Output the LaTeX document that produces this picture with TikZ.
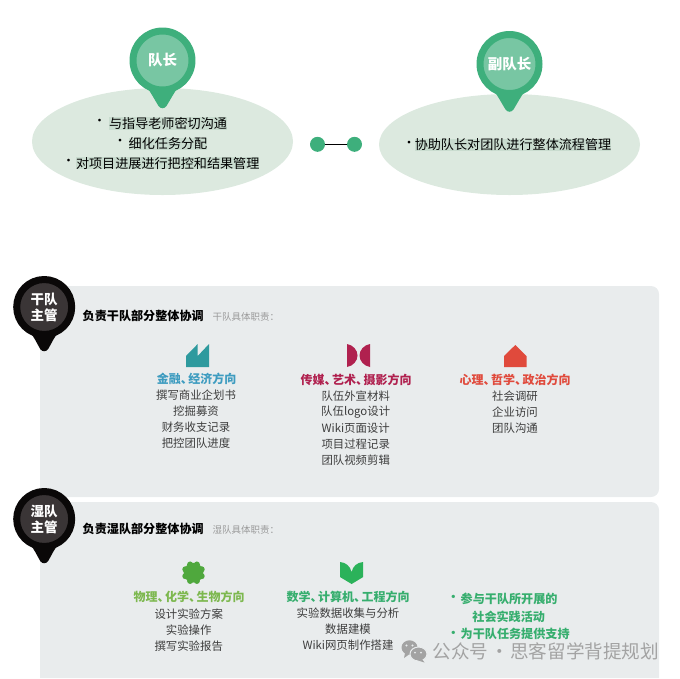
\documentclass[tikz,border=0pt]{standalone}
\usepackage{fontspec}
\setmainfont{Noto Sans CJK SC}
\usetikzlibrary{shapes.geometric}
\definecolor{leafgreen}{HTML}{3EAF7C}
\definecolor{leaflight}{HTML}{78C6A3}
\definecolor{ovalgreen}{HTML}{DCE9DF}
\definecolor{marktext}{HTML}{C9DCCF}
\definecolor{panelgrey}{HTML}{E9ECED}
\definecolor{pinblack}{HTML}{0A0808}
\definecolor{pingrey}{HTML}{3A3536}
\definecolor{bodygrey}{HTML}{3D3D3D}
\definecolor{notegrey}{HTML}{9A9A9A}
\definecolor{markgrey}{HTML}{A3A3A3}
\definecolor{finteal}{HTML}{2E9A9E}
\definecolor{finblue}{HTML}{3E9CC0}
\definecolor{mediared}{HTML}{B0214F}
\definecolor{psyred}{HTML}{E04A3C}
\definecolor{biogreen}{HTML}{4FA83D}
\definecolor{biohead}{HTML}{7DB84F}
\definecolor{mathgreen}{HTML}{2BB25A}
\definecolor{mathhead}{HTML}{36AE6E}
\newcommand{\dunhao}{、\kern-4.5pt}
\tikzset{
  oval/.style={ellipse,fill=ovalgreen,inner sep=0pt},
  greenpin/.style={circle,fill=leaflight,draw=leafgreen,line width=7pt,minimum size=59pt,inner sep=0pt,text=white,font=\fontsize{14.5}{16}\bfseries\selectfont},
  blackpin/.style={circle,fill=pingrey,draw=pinblack,line width=7pt,minimum size=55pt,inner sep=0pt,text=white,align=center,font=\fontsize{13.5}{16}\bfseries\selectfont},
  leadtext/.style={fill=marktext,inner sep=0pt,text=black,font=\fontsize{13.1}{15}\selectfont},
  leaddot/.style={inner sep=0pt,text=black,font=\fontsize{13}{15}\selectfont},
  enddot/.style={circle,fill=leafgreen,minimum size=15pt,inner sep=0pt},
  titletext/.style={anchor=west,inner sep=0pt,text=black,font=\fontsize{12.1}{14}\bfseries\selectfont},
  notetext/.style={anchor=west,inner sep=0pt,text=notegrey,font=\fontsize{9.5}{11}\selectfont},
  headtext/.style={inner sep=0pt,font=\fontsize{12}{14}\bfseries\selectfont},
  bodytext/.style={inner sep=0pt,text=bodygrey,font=\fontsize{11.4}{13}\selectfont},
  dutytext/.style={inner sep=0pt,text=mathhead,font=\fontsize{12.1}{14}\bfseries\selectfont},
}
\begin{document}
\begin{tikzpicture}[x=1pt,y=-1pt,line cap=round,line join=round]
	\useasboundingbox (0,0) rectangle (680,678);
	% team leaders
	\node[oval,minimum width=261pt,minimum height=107pt] (captainoval) at (162.5,141.5) {};
	\node[oval,minimum width=261pt,minimum height=101pt] (deputyoval) at (509.5,144.5) {};
	\foreach \px/\py in {162.5/60.5,509.5/64}
		\fill[leafgreen,shift={(\px,\py)}] (-16,26) .. controls (-11,33) and (-8,39) .. (-4,45.5) .. controls (-2,48.5) and (2,48.5) .. (4,45.5) .. controls (8,39) and (11,33) .. (16,26)--cycle;
	\node[greenpin] (captainpin) at (162.5,60.5) {队长};
	\node[greenpin] (deputypin) at (509.5,64) {副队长};
	\node[leadtext] (capline1) at (168,123.5) {与指导老师密切沟通};
	\node[leadtext] (capline2) at (168,143.7) {细化任务分配};
	\node[leadtext] (capline3) at (167.7,163.3) {对项目进展进行把控和结果管理};
	\node[leaddot] (capdot1) at (99.5,122.5) {·};
	\node[leaddot] (capdot2) at (120,142) {·};
	\node[leaddot] (capdot3) at (68.5,162) {·};
	\node[leadtext] (depline) at (513,144.7) {协助队长对团队进行整体流程管理};
	\node[leaddot] (depdot) at (409,144.5) {·};
	\node[enddot] (linkleft) at (317.5,144.3) {};
	\node[enddot] (linkright) at (354.5,144.3) {};
	\draw[line width=0.8pt,black] (linkleft)--(linkright);
	% panels
	\fill[panelgrey,rounded corners=8pt] (40,286) rectangle (659,497);
	\fill[panelgrey,rounded corners=8pt] (40,678)--(40,502)--(659,502)--(659,678);
	\foreach \py in {307,519}
		\fill[pinblack,shift={(44.2,\py)}] (-15,24) .. controls (-10,30) and (-7.5,36) .. (-4,42) .. controls (-2,45) and (2,45) .. (4,42) .. controls (7.5,36) and (10,30) .. (15,24)--cycle;
	\node[blackpin] (drypin) at (44.2,307) {干队\\主管};
	\node[blackpin] (wetpin) at (44.2,519) {湿队\\主管};
	\node[titletext] (drytitle) at (82.5,315.5) {负责干队部分整体协调};
	\node[notetext] (drynote) at (212.5,316.5) {干队具体职责：};
	\node[titletext] (wettitle) at (82.5,528.7) {负责湿队部分整体协调};
	\node[notetext] (wetnote) at (212.5,529.7) {湿队具体职责：};
	% icons
	\fill[finteal,line join=miter] (186,367)--(186,356)--(197.7,344)--(197.7,356)--(209,344)--(209,367)--cycle;
	\fill[mediared] (347,344) .. controls (353,345) and (357.5,350) .. (357.5,355.5) .. controls (357.5,361) and (353,366) .. (347,367)--cycle;
	\fill[mediared] (370,344) .. controls (364,345) and (359.5,350) .. (359.5,355.5) .. controls (359.5,361) and (364,366) .. (370,367)--cycle;
	\fill[psyred,line join=miter] (504,367)--(504,356)--(515.3,345)--(526.5,356)--(526.5,367)--cycle;
	\fill[biogreen] (193.5,572.7) circle (9.8);
	\foreach \ang in {0,45,...,315}
		\fill[biogreen] (193.5,572.7)+(\ang+22.5:8.8) circle (3.1);
	\fill[mathgreen,line join=miter] (340,562) .. controls (346,562.5) and (350,566) .. (351.6,572) .. controls (353,566) and (357,562.5) .. (363.2,562)--(363.2,577)--(351.6,584)--(340,577)--cycle;
	% dry team
	\node[headtext,text=finblue] (finhead) at (196.7,378.7) {金融\dunhao 经济方向};
	\foreach \ly/\ltext [count=\li] in {395/撰写商业企划书,411/挖掘募资,427/财务收支记录,443/把控团队进度}
		\node[bodytext] (finline\li) at (196,\ly) {\ltext};
	\node[headtext,text=mediared] (mediahead) at (356,379.7) {传媒\dunhao 艺术\dunhao 摄影方向};
	\foreach \ly/\ltext [count=\li] in {395.7/队伍外宣材料,411.7/队伍logo设计,427.7/Wiki页面设计,443.7/项目过程记录,459.7/团队视频剪辑}
		\node[bodytext] (medialine\li) at (355.7,\ly) {\ltext};
	\node[headtext,text=psyred] (psyhead) at (515,379.7) {心理\dunhao 哲学\dunhao 政治方向};
	\foreach \ly/\ltext [count=\li] in {396/社会调研,412/企业访问,428/团队沟通}
		\node[bodytext] (psyline\li) at (515,\ly) {\ltext};
	% wet team
	\node[headtext,text=biohead] (biohead) at (189,597) {物理\dunhao 化学\dunhao 生物方向};
	\foreach \ly/\ltext [count=\li] in {614/设计实验方案,630/实验操作,646/撰写实验报告}
		\node[bodytext] (bioline\li) at (188.7,\ly) {\ltext};
	\node[headtext,text=mathhead] (mathhead) at (348,596.7) {数学\dunhao 计算机\dunhao 工程方向};
	\foreach \ly/\ltext [count=\li] in {613/实验数据收集与分析,629/数据建模,645/Wiki网页制作搭建}
		\node[bodytext] (mathline\li) at (348,\ly) {\ltext};
	\node[dutytext] (dutydot1) at (453.5,598.7) {·};
	\node[dutytext,anchor=west] (duty1) at (460.5,598.7) {参与干队所开展的};
	\node[dutytext] (duty2) at (508.7,616.7) {社会实践活动};
	\node[dutytext] (dutydot3) at (453.5,634.3) {·};
	\node[dutytext,anchor=west] (duty3) at (460.5,634.3) {为干队任务提供支持};
	% account mark
	\fill[markgrey] (409.5,647.5) ellipse (8 and 7.2);
	\fill[markgrey] (405,653)--(404,658)--(409,654.5)--cycle;
	\fill[markgrey,draw=panelgrey,line width=1pt] (418.5,654) ellipse (8.5 and 7);
	\fill[markgrey] (422,659)--(424.5,662.5)--(418,660.5)--cycle;
	\fill[panelgrey] (406.5,645.5) circle (1.1) (412.5,645.5) circle (1.1) (415,652.5) circle (1) (421,652.5) circle (1);
	\node[inner sep=0pt,anchor=west,text=markgrey,font=\fontsize{18.6}{20}\selectfont] (accountmark) at (432.5,651.7) {公众号 \kern-2pt·\kern1pt 思客留学背提规划};
\end{tikzpicture}
\end{document}
